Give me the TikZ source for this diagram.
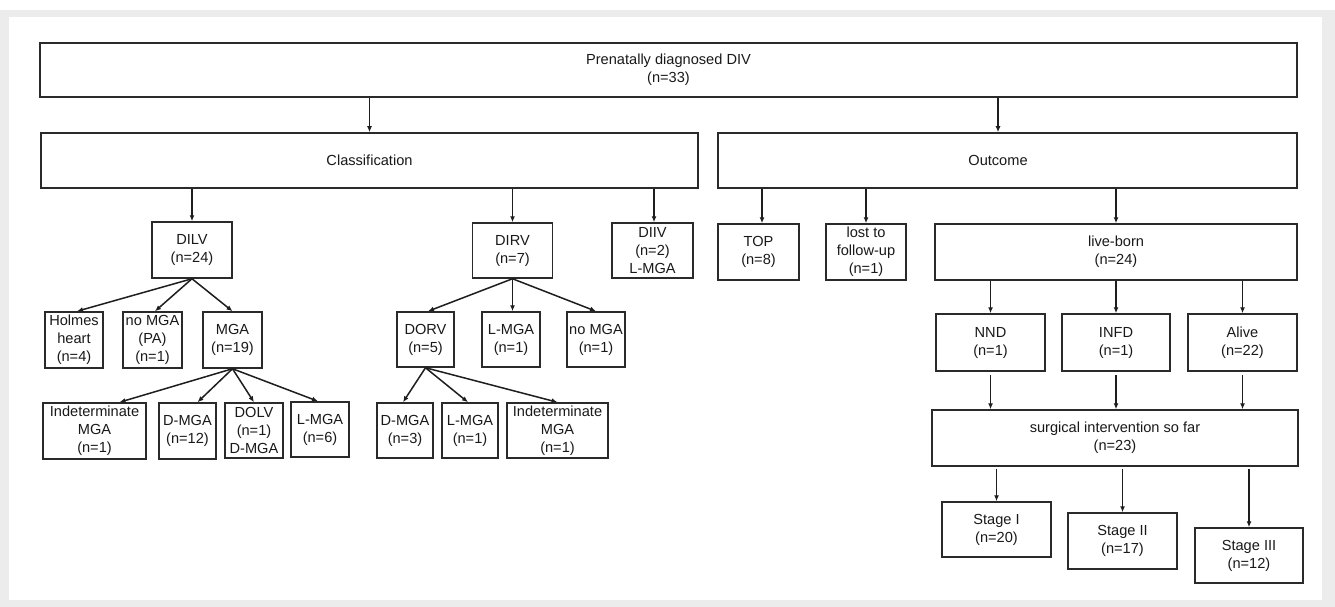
\documentclass[tikz,border=0pt]{standalone}
\usepackage{fontspec}
\setmainfont{Liberation Sans}
\usetikzlibrary{arrows.meta}
\definecolor{boxc}{HTML}{2A2A2A}
\definecolor{arrc}{HTML}{1E1E1E}
\definecolor{framec}{HTML}{ECECEC}
\newcommand\boxfont{\fontsize{14.6}{18}\selectfont}
\begin{document}
\begin{tikzpicture}[x=1pt,y=-1pt,
  bx/.style={draw=boxc, line width=1.5pt, inner sep=0pt, align=center, font=\boxfont, text=black!90},
  arr/.style={-{Latex[length=6pt,width=5pt]}, line width=1.5pt, draw=arrc}]
\useasboundingbox (0,0) rectangle (1335,607);
\fill[framec] (0,10) rectangle (1335,607);
\fill[white] (9,17) rectangle (1322,600);

% level 0/1
\node[bx, minimum width=1257pt, minimum height=54pt] (top) at (668.5,70) {Prenatally diagnosed DIV\\(n=33)};
\node[bx, minimum width=657pt, minimum height=55pt] (cls) at (369.5,160.5) {Classification};
\node[bx, minimum width=579pt, minimum height=55pt] (out) at (1007.5,160.5) {Outcome\hspace*{19pt}};

% classification branch
\node[bx, minimum width=80pt, minimum height=56pt] (dilv) at (192,250) {DILV\\(n=24)};
\node[bx, minimum width=80pt, minimum height=55pt] (dirv) at (512.5,250.5) {DIRV\\(n=7)};
\node[bx, minimum width=81pt, minimum height=55pt] (diiv) at (652.5,250.5) {DIIV\\(n=2)\\L-MGA};

\node[bx, minimum width=58pt, minimum height=56pt] (holmes) at (74,340) {Holmes\\heart\\(n=4)};
\node[bx, minimum width=59pt, minimum height=56pt] (nompa) at (152.5,340) {no MGA\\(PA)\\(n=1)};
\node[bx, minimum width=59pt, minimum height=56pt] (mga) at (232.5,340) {MGA\\(n=19)};

\node[bx, minimum width=103pt, minimum height=56pt] (ind1) at (94.5,431) {Indeterminate\\MGA\\(n=1)};
\node[bx, minimum width=57pt, minimum height=56pt] (dmga1) at (187.5,431) {D-MGA\\(n=12)};
\node[bx, minimum width=58pt, minimum height=55pt] (dolv) at (254,430.5) {DOLV\\(n=1)\\D-MGA};
\node[bx, minimum width=58pt, minimum height=55pt] (lmga1) at (320,429.5) {L-MGA\\(n=6)};

\node[bx, minimum width=57pt, minimum height=55pt] (dorv) at (425.5,339.5) {DORV\\(n=5)};
\node[bx, minimum width=58pt, minimum height=55pt] (lmga2) at (511,339.5) {L-MGA\\(n=1)};
\node[bx, minimum width=58pt, minimum height=55pt] (nomga2) at (596,339.5) {no MGA\\(n=1)};

\node[bx, minimum width=56pt, minimum height=55pt] (dmga2) at (405,430.5) {D-MGA\\(n=3)};
\node[bx, minimum width=56pt, minimum height=55pt] (lmga3) at (470,430.5) {L-MGA\\(n=1)};
\node[bx, minimum width=101pt, minimum height=55pt] (ind2) at (557.5,430.5) {Indeterminate\\MGA\\(n=1)};

% outcome branch
\node[bx, minimum width=81pt, minimum height=56pt] (topn) at (758.5,252) {TOP\\(n=8)};
\node[bx, minimum width=80pt, minimum height=56pt] (lost) at (866,252) {lost to\\follow-up\\(n=1)};
\node[bx, minimum width=362pt, minimum height=56pt] (live) at (1116,252) {live-born\\(n=24)};

\node[bx, minimum width=109pt, minimum height=57pt] (nnd) at (990.5,342.5) {NND\\(n=1)};
\node[bx, minimum width=108pt, minimum height=57pt] (infd) at (1116,342.5) {INFD\\(n=1)};
\node[bx, minimum width=109pt, minimum height=57pt] (alive) at (1242.5,342.5) {Alive\\(n=22)};

\node[bx, minimum width=366pt, minimum height=56pt] (surg) at (1115,438) {surgical intervention so far\\(n=23)};

\node[bx, minimum width=109pt, minimum height=55pt] (s1) at (996.5,529.5) {Stage I\\(n=20)};
\node[bx, minimum width=109pt, minimum height=56pt] (s2) at (1122.5,541) {Stage II\\(n=17)};
\node[bx, minimum width=108pt, minimum height=55pt] (s3) at (1249,555.5) {Stage III\\(n=12)};

% connectors
\coordinate (outin) at ([xshift=-9.5pt]out.north);
\draw[arr] (top.south -| cls.north) -- (cls.north);
\draw[arr] (outin |- top.south) -- (outin);

\draw[arr] (cls.south -| dilv.north) -- (dilv.north);
\draw[arr] (cls.south -| dirv.north) -- (dirv.north);
\draw[arr] ([xshift=1.5pt]diiv.north |- cls.south) -- ([xshift=1.5pt]diiv.north);

\draw[arr] (dilv.south) -- ([xshift=3pt]holmes.north);
\draw[arr] (dilv.south) -- ([xshift=2.5pt]nompa.north);
\draw[arr] (dilv.south) -- (mga.north);

\draw[arr] (mga.south) -- ([xshift=25pt]ind1.north);
\draw[arr] (mga.south) -- ([xshift=10pt]dmga1.north);
\draw[arr] (mga.south) -- (dolv.north);
\draw[arr] (mga.south) -- ([xshift=-2pt]lmga1.north);

\draw[arr] (dirv.south) -- ([xshift=2.5pt]dorv.north);
\draw[arr] (dirv.south) -- (lmga2.north -| dirv.south);
\draw[arr] (dirv.south) -- (nomga2.north);

\draw[arr] (dorv.south) -- ([xshift=-2pt]dmga2.north);
\draw[arr] (dorv.south) -- ([xshift=-2pt]lmga3.north);
\draw[arr] (dorv.south) -- (ind2.north);

\draw[arr] ([xshift=3.5pt]topn.north |- out.south) -- ([xshift=3.5pt]topn.north);
\draw[arr] (out.south -| lost.north) -- (lost.north);
\draw[arr] (out.south -| live.north) -- (live.north);

\draw[arr] (live.south -| nnd.north) -- (nnd.north);
\draw[arr] (live.south -| infd.north) -- (infd.north);
\draw[arr] (live.south -| alive.north) -- (alive.north);

\draw[arr, shorten <=3pt] (nnd.south) -- (surg.north -| nnd.south);
\draw[arr, shorten <=3pt] (infd.south) -- (surg.north -| infd.south);
\draw[arr, shorten <=3pt] (alive.south) -- (surg.north -| alive.south);

\draw[arr, shorten <=2pt] (surg.south -| s1.north) -- (s1.north);
\draw[arr, shorten <=2pt] (surg.south -| s2.north) -- (s2.north);
\draw[arr, shorten <=2pt] (surg.south -| s3.north) -- (s3.north);
\end{tikzpicture}
\end{document}
